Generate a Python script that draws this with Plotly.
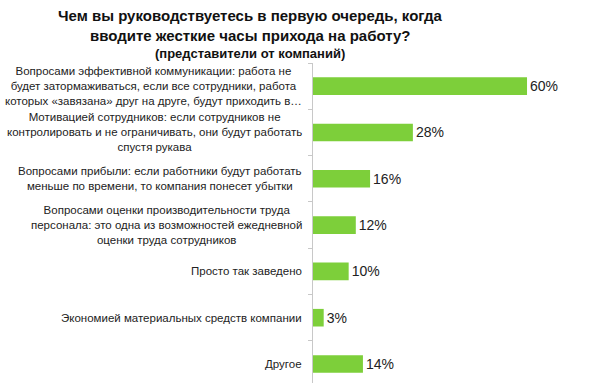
import plotly.graph_objects as go

categories = [
    "Вопросами эффективной коммуникации: работа не<br>будет затормаживаться, если все сотрудники, работа<br>которых «завязана» друг на друге, будут приходить в…",
    "Мотивацией сотрудников: если сотрудников не<br>контролировать и не ограничивать, они будут работать<br>спустя рукава",
    "Вопросами прибыли: если работники будут работать<br>меньше по времени, то компания понесет убытки",
    "Вопросами оценки производительности труда<br>персонала: это одна из возможностей ежедневной<br>оценки труда сотрудников",
    "Просто так заведено",
    "Экономией материальных средств компании",
    "Другое",
]
values = [60, 28, 16, 12, 10, 3, 14]
value_labels = ["60%", "28%", "16%", "12%", "10%", "3%", "14%"]
title_lines = [
    "Чем вы руководствуетесь в первую очередь, когда",
    "вводите жесткие часы прихода на работу?",
    "(представители от компаний)",
]

FONT = "Arial, 'Liberation Sans', sans-serif"
W, H = 600, 383
L, R, T, B = 313, 10, 63, 0
PW, PH = W - L - R, H - T - B


def px_to_paper_x(px):
    return (px - L) / PW


def px_to_paper_y(py):
    return (H - B - py) / PH


fig = go.Figure(
    go.Bar(
        x=values,
        y=categories,
        orientation="h",
        marker=dict(color="#7dcf3a", line=dict(width=0)),
        width=0.38,
        text=value_labels,
        textposition="outside",
        cliponaxis=False,
        textfont=dict(family=FONT, size=14, color="#222222"),
    )
)

annotations = []
for c in categories:
    annotations.append(
        dict(
            x=0, xref="paper", y=c, yref="y",
            text=c, showarrow=False, xanchor="right", yanchor="middle",
            align="center", xshift=-9,
            font=dict(family=FONT, size=11.5, color="#222222"),
        )
    )

title_specs = [(title_lines[0], 15, 15), (title_lines[1], 35, 15), (title_lines[2], 53, 13)]
for txt, ypix, size in title_specs:
    annotations.append(
        dict(
            x=px_to_paper_x(250), xref="paper", y=px_to_paper_y(ypix), yref="paper",
            text="<b>" + txt + "</b>", showarrow=False, xanchor="center", yanchor="middle",
            font=dict(family=FONT, size=size, color="#111111"),
        )
    )

fig.update_layout(
    width=W, height=H,
    margin=dict(l=L, r=R, t=T, b=B),
    paper_bgcolor="white", plot_bgcolor="white",
    showlegend=False,
    xaxis=dict(range=[0, PW / 3.567], visible=False, fixedrange=True),
    yaxis=dict(
        type="category",
        range=[6.41, -0.5],
        showticklabels=False,
        showline=True, linecolor="#c8c8c8", linewidth=1,
        ticks="outside", ticklen=4, tickcolor="#c8c8c8",
        tickson="boundaries",
        showgrid=False, zeroline=False,
    ),
    annotations=annotations,
    bargap=0.62,
)

fig.write_html(
    "out.html",
    config={"displayModeBar": False},
    post_script="document.body.style.margin='0';",
)
